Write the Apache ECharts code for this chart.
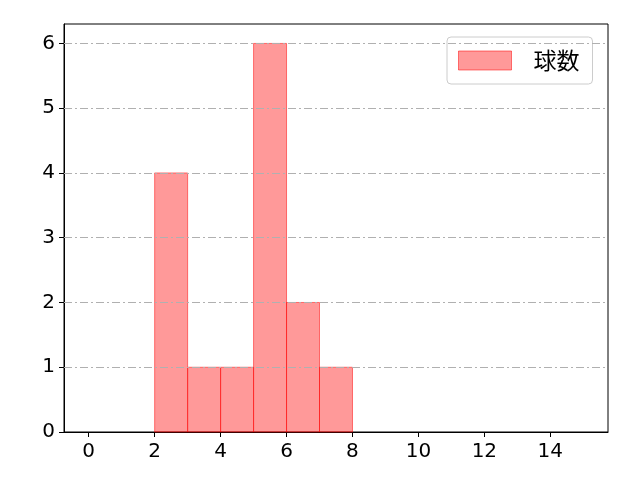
<!DOCTYPE html>
<html>
<head>
<meta charset="utf-8">
<script src="https://cdn.jsdelivr.net/npm/echarts@6/dist/echarts.min.js"></script>
<style>html,body{margin:0;padding:0;background:#fff}#c{width:640px;height:480px}</style>
</head>
<body>
<div id="c"></div>
<script>
const seriesName = '球数';
const binStarts = [2, 3, 4, 5, 6, 7];
const binEnds = [3, 4, 5, 6, 7, 8];
const counts = [4, 1, 1, 6, 2, 1];
const xTicks = [0, 2, 4, 6, 8, 10, 12, 14];
const yTicks = [0, 1, 2, 3, 4, 5, 6];

const FILL = 'rgba(255,0,0,0.4)';
const EDGE = 'rgba(255,0,0,0.5)';
const FONT = "'DejaVu Sans', 'Noto Sans CJK JP', sans-serif";

const data = binStarts.map((s, i) => [s, binEnds[i], counts[i]]);

const chart = echarts.init(document.getElementById('c'));
chart.setOption({
  animation: false,
  backgroundColor: '#fff',
  grid: {left: 64, right: 32, top: 24, bottom: 48, show: true, borderColor: '#000', borderWidth: 1, backgroundColor: 'transparent'},
  legend: {
    left: 447, top: 37,
    padding: [12, 13, 12, 11],
    itemWidth: 53, itemHeight: 19,
    borderColor: '#cccccc', borderWidth: 1, borderRadius: 4,
    backgroundColor: 'rgba(255,255,255,0.8)',
    textStyle: {fontFamily: "'Noto Sans CJK JP', sans-serif", fontSize: 23, color: '#000', padding: [0, 0, 0, 17]},
    data: [{name: seriesName, icon: 'rect', itemStyle: {color: FILL, borderColor: EDGE, borderWidth: 1}}]
  },
  xAxis: {
    type: 'value', min: -0.75, max: 15.75,
    axisLine: {show: true, onZero: false, lineStyle: {color: '#000', width: 1}},
    axisTick: {show: true, inside: false, length: 5, customValues: xTicks, lineStyle: {color: '#000'}},
    axisLabel: {customValues: xTicks, color: '#000', fontSize: 20, fontFamily: FONT, margin: 10},
    splitLine: {show: false}
  },
  yAxis: {
    type: 'value', min: 0, max: 6.3,
    axisLine: {show: true, onZero: false, lineStyle: {color: '#000', width: 1}},
    axisTick: {show: true, inside: false, length: 5, customValues: yTicks, lineStyle: {color: '#000'}},
    axisLabel: {customValues: yTicks, color: '#000', fontSize: 20, fontFamily: FONT, margin: 9},
    splitLine: {show: false}
  },
  series: [{
    type: 'custom',
    name: seriesName,
    itemStyle: {color: FILL, borderColor: EDGE},
    encode: {x: [0, 1], y: 2},
    data: data,
    renderItem: function (params, api) {
      const p0 = api.coord([api.value(0), 0]);
      const p1 = api.coord([api.value(1), api.value(2)]);
      return {
        type: 'rect',
        shape: {x: p0[0], y: p1[1], width: p1[0] - p0[0], height: p0[1] - p1[1]},
        style: {fill: FILL, stroke: EDGE, lineWidth: 1}
      };
    },
    markLine: {
      silent: true,
      symbol: 'none',
      label: {show: false},
      z: 5,
      lineStyle: {color: '#b0b0b0', width: 1, type: [8, 3, 2, 3]},
      data: yTicks.slice(1).map(v => ({yAxis: v}))
    }
  }]
});
</script>
</body>
</html>
